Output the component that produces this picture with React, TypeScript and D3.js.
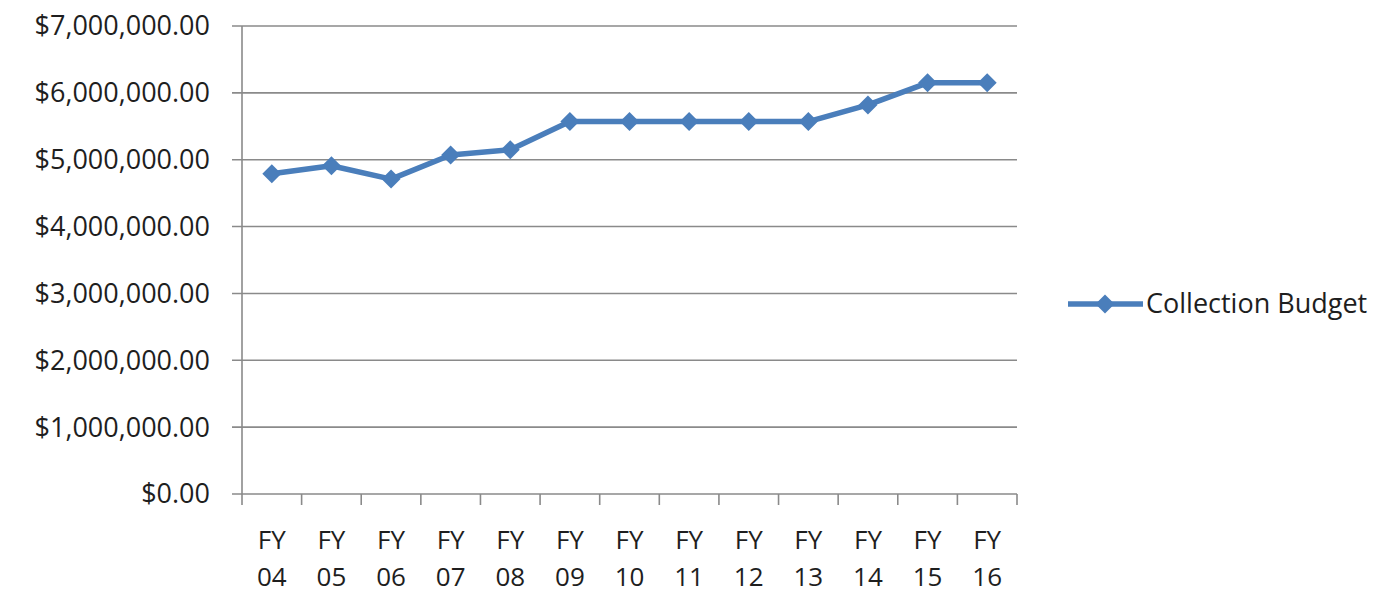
import * as d3 from "d3";

// fiscal years on the x axis (two-line labels)
const years = ["04", "05", "06", "07", "08", "09", "10", "11", "12", "13", "14", "15", "16"];

// collection budget per fiscal year, in dollars
const budget = [
  4790000, 4910000, 4710000, 5070000, 5150000, 5570000, 5570000, 5570000,
  5570000, 5570000, 5820000, 6150000, 6150000,
];

const yTicks = [0, 1000000, 2000000, 3000000, 4000000, 5000000, 6000000, 7000000];

const seriesName = "Collection Budget";

const width = 1395;
const height = 595;

const left = 242;
const right = 1017;
const top = 26;
const bottom = 494;

const blue = "#4a7ebb";
const grid = "#8a8a8a";
const textColor = "#1e1e1e";
const font = "'Open Sans', sans-serif";
const fontSize = 27;

// diamond marker path centred at 0,0
const diamond = (r: number) => `M0,${-r}L${r},0L0,${r}L${-r},0Z`;

export default function App() {
  const x = d3.scaleBand(years, [left, right]);
  const y = d3.scaleLinear([0, 7000000], [bottom, top]);
  const fmt = d3.format("$,.2f");

  const line = d3
    .line<number>()
    .x((_, i) => x(years[i])! + x.bandwidth() / 2)
    .y((d) => y(d));

  // tick positions along the category axis: every band boundary
  const xBounds = years.map((yr) => x(yr)!).concat([right]);

  return (
    <svg
      width={width}
      height={height}
      style={{ position: "absolute", left: 0, top: 0, background: "#fff" }}
      fontFamily={font}
    >
      {/* gridlines + y tick labels */}
      {yTicks.map((t) => (
        <g key={t}>
          <line
            x1={left - 10}
            x2={right}
            y1={y(t)}
            y2={y(t)}
            stroke={grid}
            strokeWidth={1.6}
          />
          <text
            x={210}
            y={y(t)}
            dy="0.35em"
            textAnchor="end"
            fontSize={fontSize}
            fill={textColor}
          >
            {fmt(t)}
          </text>
        </g>
      ))}

      {/* y axis line */}
      <line x1={left} x2={left} y1={top} y2={bottom} stroke={grid} strokeWidth={1.6} />

      {/* x axis ticks */}
      {xBounds.map((bx, i) => (
        <line
          key={i}
          x1={bx}
          x2={bx}
          y1={bottom}
          y2={bottom + 11}
          stroke={grid}
          strokeWidth={1.6}
        />
      ))}

      {/* x labels, two lines each */}
      {years.map((yr) => {
        const cx = x(yr)! + x.bandwidth() / 2;
        return (
          <g key={yr} fontSize={26} fill={textColor} textAnchor="middle">
            <text x={cx} y={540} dy="0.35em">
              FY
            </text>
            <text x={cx} y={577} dy="0.35em">
              {yr}
            </text>
          </g>
        );
      })}

      {/* series */}
      <path d={line(budget)!} fill="none" stroke={blue} strokeWidth={5.5} strokeLinejoin="round" />
      {budget.map((v, i) => (
        <path
          key={i}
          d={diamond(9.5)}
          transform={`translate(${x(years[i])! + x.bandwidth() / 2},${y(v)})`}
          fill={blue}
        />
      ))}

      {/* legend */}
      <g transform="translate(1068,304)">
        <line x1={0} x2={75} y1={0} y2={0} stroke={blue} strokeWidth={5.5} />
        <path d={diamond(9.5)} transform="translate(37,0)" fill={blue} />
        <text x={78} dy="0.35em" fontSize={fontSize} fill={textColor}>
          {seriesName}
        </text>
      </g>
    </svg>
  );
}
